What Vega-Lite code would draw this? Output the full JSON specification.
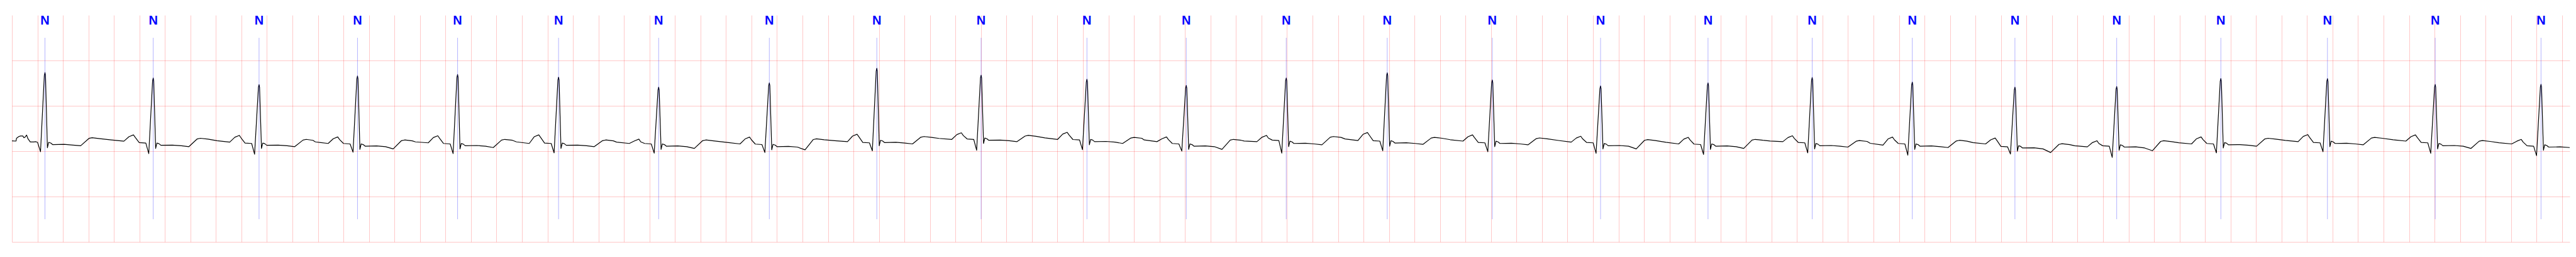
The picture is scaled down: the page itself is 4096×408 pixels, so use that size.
{
"$schema": "https://vega.github.io/schema/vega-lite/v6.json",
"width": 4067, "height": 360,
"autosize": "none",
"padding": {"left": 19, "top": 24, "right": 10, "bottom": 24},
"background": "white",
"config": {"view": {"stroke": null}},
"datasets": {
"ecg": [
{"t":0,"v":-0.273},{"t":0.032,"v":-0.278},{"t":0.036,"v":-0.215},{"t":0.054,"v":-0.177},{"t":0.067,"v":-0.165},{"t":0.085,"v":-0.165},{"t":0.094,"v":-0.203},{"t":0.103,"v":-0.19},{"t":0.115,"v":-0.145},{"t":0.126,"v":-0.228},{"t":0.144,"v":-0.296},{"t":0.17,"v":-0.296},{"t":0.188,"v":-0.291},{"t":0.201,"v":-0.305},
{"t":0.224,"v":-0.513},{"t":0.254,"v":1.173},{"t":0.259,"v":1.233},{"t":0.263,"v":1.173},{"t":0.278,"v":-0.425},{"t":0.288,"v":-0.305},{"t":0.304,"v":-0.32},{"t":0.319,"v":-0.355},{"t":0.409,"v":-0.35},{"t":0.479,"v":-0.365},{"t":0.539,"v":-0.38},{"t":0.604,"v":-0.218},{"t":0.629,"v":-0.203},{"t":0.689,"v":-0.223},{"t":0.778,"v":-0.252},{"t":0.878,"v":-0.28},{"t":0.918,"v":-0.18},{"t":0.953,"v":-0.14},{"t":0.968,"v":-0.2},{"t":0.998,"v":-0.31},
{"t":1.05,"v":-0.32},{"t":1.073,"v":-0.555},{"t":1.103,"v":1.052},{"t":1.108,"v":1.112},{"t":1.112,"v":1.052},{"t":1.127,"v":-0.44},{"t":1.137,"v":-0.32},{"t":1.153,"v":-0.335},{"t":1.168,"v":-0.37},{"t":1.258,"v":-0.365},{"t":1.328,"v":-0.38},{"t":1.388,"v":-0.4},{"t":1.453,"v":-0.23},{"t":1.478,"v":-0.215},{"t":1.538,"v":-0.235},{"t":1.608,"v":-0.268},{"t":1.708,"v":-0.3},{"t":1.748,"v":-0.192},{"t":1.783,"v":-0.152},{"t":1.798,"v":-0.212},{"t":1.828,"v":-0.32},
{"t":1.88,"v":-0.33},{"t":1.903,"v":-0.568},{"t":1.933,"v":0.908},{"t":1.938,"v":0.968},{"t":1.942,"v":0.908},{"t":1.957,"v":-0.44},{"t":1.967,"v":-0.32},{"t":1.983,"v":-0.335},{"t":1.998,"v":-0.37},{"t":2.088,"v":-0.365},{"t":2.158,"v":-0.38},{"t":2.218,"v":-0.4},{"t":2.283,"v":-0.255},{"t":2.308,"v":-0.24},{"t":2.36,"v":-0.26},{"t":2.38,"v":-0.295},{"t":2.48,"v":-0.33},{"t":2.52,"v":-0.225},{"t":2.555,"v":-0.185},{"t":2.57,"v":-0.245},{"t":2.6,"v":-0.33},
{"t":2.652,"v":-0.34},{"t":2.675,"v":-0.523},{"t":2.705,"v":1.097},{"t":2.71,"v":1.157},{"t":2.714,"v":1.097},{"t":2.729,"v":-0.46},{"t":2.739,"v":-0.34},{"t":2.755,"v":-0.355},{"t":2.77,"v":-0.39},{"t":2.86,"v":-0.385},{"t":2.93,"v":-0.4},{"t":2.99,"v":-0.45},{"t":3.055,"v":-0.268},{"t":3.08,"v":-0.253},{"t":3.14,"v":-0.273},{"t":3.165,"v":-0.295},{"t":3.265,"v":-0.316},{"t":3.305,"v":-0.2},{"t":3.34,"v":-0.16},{"t":3.355,"v":-0.22},{"t":3.385,"v":-0.33},
{"t":3.437,"v":-0.34},{"t":3.46,"v":-0.553},{"t":3.49,"v":1.131},{"t":3.495,"v":1.191},{"t":3.499,"v":1.131},{"t":3.514,"v":-0.45},{"t":3.524,"v":-0.33},{"t":3.54,"v":-0.345},{"t":3.555,"v":-0.38},{"t":3.645,"v":-0.375},{"t":3.715,"v":-0.39},{"t":3.775,"v":-0.42},{"t":3.84,"v":-0.255},{"t":3.865,"v":-0.24},{"t":3.925,"v":-0.26},{"t":3.957,"v":-0.295},{"t":4.057,"v":-0.33},{"t":4.097,"v":-0.18},{"t":4.132,"v":-0.14},{"t":4.147,"v":-0.2},{"t":4.177,"v":-0.32},
{"t":4.229,"v":-0.33},{"t":4.252,"v":-0.538},{"t":4.282,"v":1.072},{"t":4.287,"v":1.132},{"t":4.291,"v":1.072},{"t":4.306,"v":-0.44},{"t":4.316,"v":-0.32},{"t":4.332,"v":-0.335},{"t":4.347,"v":-0.37},{"t":4.437,"v":-0.365},{"t":4.507,"v":-0.38},{"t":4.567,"v":-0.4},{"t":4.632,"v":-0.268},{"t":4.657,"v":-0.253},{"t":4.717,"v":-0.273},{"t":4.742,"v":-0.3},{"t":4.842,"v":-0.33},{"t":4.882,"v":-0.275},{"t":4.917,"v":-0.235},{"t":4.932,"v":-0.295},{"t":4.962,"v":-0.33},
{"t":5.014,"v":-0.34},{"t":5.037,"v":-0.543},{"t":5.067,"v":0.851},{"t":5.072,"v":0.911},{"t":5.076,"v":0.851},{"t":5.091,"v":-0.46},{"t":5.101,"v":-0.34},{"t":5.117,"v":-0.355},{"t":5.132,"v":-0.39},{"t":5.222,"v":-0.385},{"t":5.292,"v":-0.4},{"t":5.352,"v":-0.44},{"t":5.417,"v":-0.268},{"t":5.442,"v":-0.253},{"t":5.502,"v":-0.273},{"t":5.61,"v":-0.307},{"t":5.71,"v":-0.34},{"t":5.75,"v":-0.23},{"t":5.785,"v":-0.19},{"t":5.8,"v":-0.25},{"t":5.83,"v":-0.344},
{"t":5.882,"v":-0.354},{"t":5.905,"v":-0.53},{"t":5.935,"v":0.946},{"t":5.94,"v":1.006},{"t":5.944,"v":0.946},{"t":5.959,"v":-0.47},{"t":5.969,"v":-0.35},{"t":5.985,"v":-0.365},{"t":6.0,"v":-0.4},{"t":6.09,"v":-0.395},{"t":6.16,"v":-0.41},{"t":6.22,"v":-0.47},{"t":6.285,"v":-0.243},{"t":6.31,"v":-0.228},{"t":6.37,"v":-0.248},{"t":6.453,"v":-0.269},{"t":6.553,"v":-0.29},{"t":6.593,"v":-0.167},{"t":6.628,"v":-0.127},{"t":6.643,"v":-0.187},{"t":6.673,"v":-0.306},
{"t":6.725,"v":-0.316},{"t":6.748,"v":-0.492},{"t":6.778,"v":1.267},{"t":6.783,"v":1.327},{"t":6.787,"v":1.267},{"t":6.802,"v":-0.38},{"t":6.812,"v":-0.26},{"t":6.828,"v":-0.275},{"t":6.843,"v":-0.31},{"t":6.933,"v":-0.305},{"t":7.003,"v":-0.32},{"t":7.063,"v":-0.34},{"t":7.128,"v":-0.192},{"t":7.153,"v":-0.177},{"t":7.213,"v":-0.197},{"t":7.271,"v":-0.219},{"t":7.371,"v":-0.24},{"t":7.411,"v":-0.134},{"t":7.446,"v":-0.094},{"t":7.461,"v":-0.154},{"t":7.491,"v":-0.23},
{"t":7.543,"v":-0.24},{"t":7.566,"v":-0.48},{"t":7.596,"v":1.115},{"t":7.601,"v":1.175},{"t":7.605,"v":1.115},{"t":7.62,"v":-0.33},{"t":7.63,"v":-0.21},{"t":7.646,"v":-0.225},{"t":7.661,"v":-0.26},{"t":7.751,"v":-0.255},{"t":7.821,"v":-0.27},{"t":7.881,"v":-0.29},{"t":7.946,"v":-0.167},{"t":7.971,"v":-0.152},{"t":8.031,"v":-0.172},{"t":8.101,"v":-0.206},{"t":8.201,"v":-0.24},{"t":8.241,"v":-0.124},{"t":8.276,"v":-0.084},{"t":8.291,"v":-0.144},{"t":8.321,"v":-0.243},
{"t":8.373,"v":-0.253},{"t":8.396,"v":-0.467},{"t":8.426,"v":1.027},{"t":8.431,"v":1.087},{"t":8.435,"v":1.027},{"t":8.45,"v":-0.36},{"t":8.46,"v":-0.24},{"t":8.476,"v":-0.255},{"t":8.491,"v":-0.29},{"t":8.581,"v":-0.285},{"t":8.651,"v":-0.3},{"t":8.711,"v":-0.33},{"t":8.776,"v":-0.21},{"t":8.801,"v":-0.195},{"t":8.861,"v":-0.215},{"t":8.88,"v":-0.253},{"t":8.98,"v":-0.29},{"t":9.02,"v":-0.225},{"t":9.055,"v":-0.185},{"t":9.07,"v":-0.245},{"t":9.1,"v":-0.33},
{"t":9.152,"v":-0.34},{"t":9.175,"v":-0.498},{"t":9.205,"v":0.891},{"t":9.21,"v":0.951},{"t":9.214,"v":0.891},{"t":9.229,"v":-0.46},{"t":9.239,"v":-0.34},{"t":9.255,"v":-0.355},{"t":9.27,"v":-0.39},{"t":9.36,"v":-0.385},{"t":9.43,"v":-0.4},{"t":9.49,"v":-0.46},{"t":9.555,"v":-0.255},{"t":9.58,"v":-0.24},{"t":9.64,"v":-0.26},{"t":9.664,"v":-0.275},{"t":9.764,"v":-0.29},{"t":9.804,"v":-0.192},{"t":9.839,"v":-0.152},{"t":9.854,"v":-0.212},{"t":9.884,"v":-0.255},
{"t":9.936,"v":-0.265},{"t":9.959,"v":-0.543},{"t":9.989,"v":1.052},{"t":9.994,"v":1.112},{"t":9.998,"v":1.052},{"t":10.013,"v":-0.4},{"t":10.023,"v":-0.28},{"t":10.039,"v":-0.295},{"t":10.054,"v":-0.33},{"t":10.144,"v":-0.325},{"t":10.214,"v":-0.34},{"t":10.274,"v":-0.36},{"t":10.339,"v":-0.192},{"t":10.364,"v":-0.177},{"t":10.424,"v":-0.197},{"t":10.456,"v":-0.231},{"t":10.556,"v":-0.265},{"t":10.596,"v":-0.129},{"t":10.631,"v":-0.089},{"t":10.646,"v":-0.149},{"t":10.676,"v":-0.268},
{"t":10.728,"v":-0.278},{"t":10.751,"v":-0.492},{"t":10.781,"v":1.168},{"t":10.786,"v":1.228},{"t":10.79,"v":1.168},{"t":10.805,"v":-0.39},{"t":10.815,"v":-0.27},{"t":10.831,"v":-0.285},{"t":10.846,"v":-0.32},{"t":10.936,"v":-0.315},{"t":11.006,"v":-0.33},{"t":11.066,"v":-0.35},{"t":11.131,"v":-0.21},{"t":11.156,"v":-0.195},{"t":11.216,"v":-0.215},{"t":11.28,"v":-0.247},{"t":11.38,"v":-0.278},{"t":11.42,"v":-0.18},{"t":11.455,"v":-0.14},{"t":11.47,"v":-0.2},{"t":11.5,"v":-0.306},
{"t":11.552,"v":-0.316},{"t":11.575,"v":-0.513},{"t":11.605,"v":1.01},{"t":11.61,"v":1.07},{"t":11.614,"v":1.01},{"t":11.629,"v":-0.4},{"t":11.639,"v":-0.28},{"t":11.655,"v":-0.295},{"t":11.67,"v":-0.33},{"t":11.76,"v":-0.325},{"t":11.83,"v":-0.34},{"t":11.89,"v":-0.36},{"t":11.955,"v":-0.223},{"t":11.98,"v":-0.208},{"t":12.04,"v":-0.228},{"t":12.129,"v":-0.264},{"t":12.229,"v":-0.3},{"t":12.269,"v":-0.21},{"t":12.304,"v":-0.17},{"t":12.319,"v":-0.23},{"t":12.349,"v":-0.306},
{"t":12.401,"v":-0.316},{"t":12.424,"v":-0.548},{"t":12.454,"v":0.878},{"t":12.459,"v":0.938},{"t":12.463,"v":0.878},{"t":12.478,"v":-0.45},{"t":12.488,"v":-0.33},{"t":12.504,"v":-0.345},{"t":12.519,"v":-0.38},{"t":12.609,"v":-0.375},{"t":12.679,"v":-0.39},{"t":12.739,"v":-0.45},{"t":12.804,"v":-0.26},{"t":12.829,"v":-0.245},{"t":12.889,"v":-0.265},{"t":12.972,"v":-0.303},{"t":13.072,"v":-0.34},{"t":13.112,"v":-0.235},{"t":13.147,"v":-0.195},{"t":13.162,"v":-0.255},{"t":13.192,"v":-0.344},
{"t":13.244,"v":-0.354},{"t":13.267,"v":-0.573},{"t":13.297,"v":0.946},{"t":13.302,"v":1.006},{"t":13.306,"v":0.946},{"t":13.321,"v":-0.46},{"t":13.331,"v":-0.34},{"t":13.347,"v":-0.355},{"t":13.362,"v":-0.39},{"t":13.452,"v":-0.385},{"t":13.522,"v":-0.4},{"t":13.582,"v":-0.44},{"t":13.647,"v":-0.255},{"t":13.672,"v":-0.24},{"t":13.732,"v":-0.26},{"t":13.789,"v":-0.275},{"t":13.889,"v":-0.29},{"t":13.929,"v":-0.2},{"t":13.964,"v":-0.16},{"t":13.979,"v":-0.22},{"t":14.009,"v":-0.306},
{"t":14.061,"v":-0.316},{"t":14.084,"v":-0.538},{"t":14.114,"v":1.065},{"t":14.119,"v":1.125},{"t":14.123,"v":1.065},{"t":14.138,"v":-0.45},{"t":14.148,"v":-0.33},{"t":14.164,"v":-0.345},{"t":14.179,"v":-0.38},{"t":14.269,"v":-0.375},{"t":14.339,"v":-0.39},{"t":14.399,"v":-0.41},{"t":14.464,"v":-0.28},{"t":14.489,"v":-0.265},{"t":14.549,"v":-0.285},{"t":14.574,"v":-0.326},{"t":14.674,"v":-0.366},{"t":14.714,"v":-0.23},{"t":14.749,"v":-0.19},{"t":14.764,"v":-0.25},{"t":14.794,"v":-0.33},
{"t":14.846,"v":-0.34},{"t":14.869,"v":-0.588},{"t":14.899,"v":0.964},{"t":14.904,"v":1.024},{"t":14.908,"v":0.964},{"t":14.923,"v":-0.46},{"t":14.933,"v":-0.34},{"t":14.949,"v":-0.355},{"t":14.964,"v":-0.39},{"t":15.054,"v":-0.385},{"t":15.124,"v":-0.4},{"t":15.184,"v":-0.42},{"t":15.249,"v":-0.275},{"t":15.274,"v":-0.26},{"t":15.334,"v":-0.28},{"t":15.379,"v":-0.31},{"t":15.479,"v":-0.34},{"t":15.519,"v":-0.25},{"t":15.554,"v":-0.21},{"t":15.569,"v":-0.27},{"t":15.599,"v":-0.394},
{"t":15.651,"v":-0.404},{"t":15.674,"v":-0.563},{"t":15.704,"v":0.851},{"t":15.709,"v":0.911},{"t":15.713,"v":0.851},{"t":15.728,"v":-0.5},{"t":15.738,"v":-0.38},{"t":15.754,"v":-0.395},{"t":15.769,"v":-0.43},{"t":15.859,"v":-0.425},{"t":15.929,"v":-0.45},{"t":15.989,"v":-0.53},{"t":16.054,"v":-0.351},{"t":16.079,"v":-0.336},{"t":16.139,"v":-0.356},{"t":16.177,"v":-0.38},{"t":16.277,"v":-0.404},{"t":16.317,"v":-0.31},{"t":16.352,"v":-0.27},{"t":16.367,"v":-0.33},{"t":16.397,"v":-0.38},
{"t":16.449,"v":-0.39},{"t":16.472,"v":-0.638},{"t":16.502,"v":0.866},{"t":16.507,"v":0.926},{"t":16.511,"v":0.866},{"t":16.526,"v":-0.48},{"t":16.536,"v":-0.36},{"t":16.552,"v":-0.375},{"t":16.567,"v":-0.41},{"t":16.657,"v":-0.405},{"t":16.727,"v":-0.43},{"t":16.787,"v":-0.49},{"t":16.852,"v":-0.285},{"t":16.877,"v":-0.27},{"t":16.937,"v":-0.29},{"t":16.994,"v":-0.315},{"t":17.094,"v":-0.34},{"t":17.134,"v":-0.225},{"t":17.169,"v":-0.185},{"t":17.184,"v":-0.245},{"t":17.214,"v":-0.33},
{"t":17.266,"v":-0.34},{"t":17.289,"v":-0.538},{"t":17.319,"v":1.042},{"t":17.324,"v":1.102},{"t":17.328,"v":1.042},{"t":17.343,"v":-0.43},{"t":17.353,"v":-0.31},{"t":17.369,"v":-0.325},{"t":17.384,"v":-0.36},{"t":17.474,"v":-0.355},{"t":17.544,"v":-0.37},{"t":17.604,"v":-0.39},{"t":17.669,"v":-0.23},{"t":17.694,"v":-0.215},{"t":17.754,"v":-0.235},{"t":17.83,"v":-0.263},{"t":17.93,"v":-0.29},{"t":17.97,"v":-0.175},{"t":18.005,"v":-0.135},{"t":18.02,"v":-0.195},{"t":18.05,"v":-0.306},
{"t":18.102,"v":-0.316},{"t":18.125,"v":-0.513},{"t":18.155,"v":1.04},{"t":18.16,"v":1.1},{"t":18.164,"v":1.04},{"t":18.179,"v":-0.4},{"t":18.189,"v":-0.28},{"t":18.205,"v":-0.295},{"t":18.22,"v":-0.33},{"t":18.31,"v":-0.325},{"t":18.38,"v":-0.34},{"t":18.44,"v":-0.36},{"t":18.505,"v":-0.21},{"t":18.53,"v":-0.195},{"t":18.59,"v":-0.215},{"t":18.675,"v":-0.247},{"t":18.775,"v":-0.278},{"t":18.815,"v":-0.18},{"t":18.85,"v":-0.14},{"t":18.865,"v":-0.2},{"t":18.895,"v":-0.306},
{"t":18.947,"v":-0.316},{"t":18.97,"v":-0.548},{"t":19.0,"v":0.911},{"t":19.005,"v":0.971},{"t":19.009,"v":0.911},{"t":19.024,"v":-0.45},{"t":19.034,"v":-0.33},{"t":19.05,"v":-0.345},{"t":19.065,"v":-0.38},{"t":19.155,"v":-0.375},{"t":19.225,"v":-0.39},{"t":19.285,"v":-0.44},{"t":19.35,"v":-0.28},{"t":19.375,"v":-0.265},{"t":19.435,"v":-0.285},{"t":19.505,"v":-0.313},{"t":19.605,"v":-0.34},{"t":19.645,"v":-0.28},{"t":19.68,"v":-0.24},{"t":19.695,"v":-0.3},{"t":19.725,"v":-0.38},
{"t":19.777,"v":-0.39},{"t":19.8,"v":-0.598},{"t":19.83,"v":0.914},{"t":19.835,"v":0.974},{"t":19.839,"v":0.914},{"t":19.854,"v":-0.48},{"t":19.864,"v":-0.36},{"t":19.88,"v":-0.375},{"t":19.895,"v":-0.41},{"t":19.985,"v":-0.405},{"t":20.06,"v":-0.42}
],
"ann": [
{"t":0.259,"sym":"N"},{"t":1.108,"sym":"N"},{"t":1.938,"sym":"N"},{"t":2.71,"sym":"N"},{"t":3.495,"sym":"N"},{"t":4.287,"sym":"N"},{"t":5.072,"sym":"N"},{"t":5.94,"sym":"N"},{"t":6.783,"sym":"N"},{"t":7.601,"sym":"N"},{"t":8.431,"sym":"N"},{"t":9.21,"sym":"N"},{"t":9.994,"sym":"N"},{"t":10.786,"sym":"N"},{"t":11.61,"sym":"N"},{"t":12.459,"sym":"N"},{"t":13.302,"sym":"N"},{"t":14.119,"sym":"N"},{"t":14.904,"sym":"N"},{"t":15.709,"sym":"N"},{"t":16.507,"sym":"N"},{"t":17.324,"sym":"N"},{"t":18.16,"sym":"N"},{"t":19.005,"sym":"N"},{"t":19.835,"sym":"N"}
]
},
"layer": [
{
"data": {"name": "ecg"},
"mark": {"type": "line", "color": "black", "strokeWidth": 1.2, "strokeJoin": "round", "clip": true},
"encoding": {
"x": {"field": "t", "type": "quantitative", "scale": {"domain": [0, 20.06], "nice": false, "zero": false},
"axis": {"title": null, "labels": false, "ticks": false, "domain": false, "grid": true, "gridColor": "#ff0000", "gridOpacity": 0.26, "gridWidth": 0.85,
"values": [0,0.2,0.4,0.6,0.8,1,1.2,1.4,1.6,1.8,2,2.2,2.4,2.6,2.8,3,3.2,3.4,3.6,3.8,4,4.2,4.4,4.6,4.8,5,5.2,5.4,5.6,5.8,6,6.2,6.4,6.6,6.8,7,7.2,7.4,7.6,7.8,8,8.2,8.4,8.6,8.8,9,9.2,9.4,9.6,9.8,10,10.2,10.4,10.6,10.8,11,11.2,11.4,11.6,11.8,12,12.2,12.4,12.6,12.8,13,13.2,13.4,13.6,13.8,14,14.2,14.4,14.6,14.8,15,15.2,15.4,15.6,15.8,16,16.2,16.4,16.6,16.8,17,17.2,17.4,17.6,17.8,18,18.2,18.4,18.6,18.8,19,19.2,19.4,19.6,19.8,20]}},
"y": {"field": "v", "type": "quantitative", "scale": {"domain": [-2.5, 2.5], "nice": false, "zero": false},
"axis": {"title": null, "labels": false, "ticks": false, "domain": false, "grid": true, "gridColor": "#ff0000", "gridOpacity": 0.26, "gridWidth": 0.85,
"values": [-2.5,-2,-1.5,-1,-0.5,0,0.5,1,1.5,2]}}
}
},
{
"data": {"name": "ann"},
"mark": {"type": "rule", "color": "#0000ff", "strokeWidth": 0.6, "opacity": 0.5},
"encoding": {
"x": {"field": "t", "type": "quantitative"},
"y": {"datum": 2},
"y2": {"datum": -2}
}
},
{
"data": {"name": "ann"},
"mark": {"type": "text", "color": "#0000ff", "font": "Liberation Sans", "fontSize": 20, "fontWeight": "bold", "align": "center", "baseline": "alphabetic"},
"encoding": {
"x": {"field": "t", "type": "quantitative"},
"y": {"datum": 2.296},
"text": {"field": "sym"}
}
}
]
}
